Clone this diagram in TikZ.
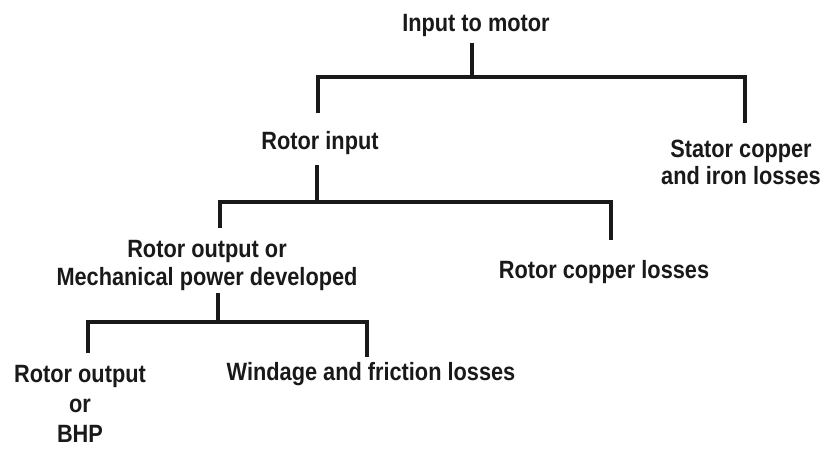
\documentclass[tikz,border=0pt]{standalone}
\usepackage{fontspec}
\newfontfamily\diagfont{Liberation Sans}[FakeStretch=0.87]
\begin{document}
\begin{tikzpicture}[x=1pt,y=-1pt,
  lbl/.style={font=\diagfont\bfseries\fontsize{25}{27.5}\selectfont, inner sep=0pt, anchor=base, align=center, text=black!90},
  conn/.style={draw=black!90, line width=3.2pt, line join=miter}]
\useasboundingbox (0,0) rectangle (827,449);
% texts (base anchor = baseline of the last line)
\node[lbl] (input) at (476,32) {Input to motor};
\node[lbl] (rin) at (320,150) {Rotor input};
\node[lbl] (stator) at (741,185) {Stator copper\\and iron losses};
\node[lbl] (rout) at (207,285) {Rotor output or\\Mechanical power developed};
\node[lbl] (rcu) at (604,278) {Rotor copper losses};
\node[lbl] (bhp) at (80,442) {Rotor output\\[2.5pt]or\\[2.5pt]BHP};
\node[lbl] (wind) at (371,380) {Windage and friction losses};
% junctions
\coordinate (s1) at (472,43);
\coordinate (j1) at (472,77);
\coordinate (e1a) at (318,113);
\coordinate (e1b) at (745,123);
\coordinate (s2) at (317,165);
\coordinate (j2) at (317,202);
\coordinate (e2a) at (220,228);
\coordinate (e2b) at (611,240);
\coordinate (s3) at (218,293);
\coordinate (j3) at (218,322);
\coordinate (e3a) at (88,353);
\coordinate (e3b) at (367,357);
% connectors
\draw[conn] (s1) -- (j1);
\draw[conn] (e1a) |- (j1) -| (e1b);
\draw[conn] (s2) -- (j2);
\draw[conn] (e2a) |- (j2) -| (e2b);
\draw[conn] (s3) -- (j3);
\draw[conn] (e3a) |- (j3) -| (e3b);
\end{tikzpicture}
\end{document}
